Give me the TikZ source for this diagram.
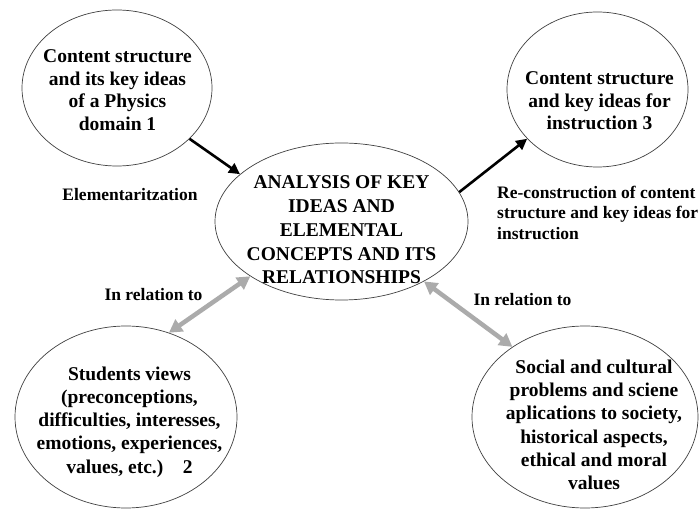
\documentclass[tikz,border=0pt]{standalone}
\usepackage{fontspec}
\setmainfont{Liberation Serif}[BoldFont={Liberation Serif Bold}]
\usetikzlibrary{shapes.geometric,arrows.meta}
\definecolor{arrgray}{RGB}{171,171,171}
\begin{document}
\begin{tikzpicture}[x=1pt,y=-1pt,
  ell/.style={ellipse, draw=black!75, line width=0.7pt, inner sep=0pt},
  etxt/.style={align=center, inner sep=0pt, font=\rmfamily\bfseries\fontsize{19.5}{22.5}\selectfont},
  ctxt/.style={align=center, inner sep=0pt, font=\rmfamily\bfseries\fontsize{19.5}{23.8}\selectfont},
  btxt/.style={align=center, inner sep=0pt, font=\rmfamily\bfseries\fontsize{19.5}{23.3}\selectfont},
  lbl/.style={inner sep=0pt, font=\rmfamily\bfseries\fontsize{17.5}{20.5}\selectfont},
  blackarr/.style={line width=2.6pt, -{Triangle[length=11pt,width=11pt]}},
  grayarr/.style={draw=arrgray, line width=4.5pt, {Triangle[length=13pt,width=14pt]}-{Triangle[length=13pt,width=14pt]}}
]
\fill[white] (0,0) rectangle (699,510);
\useasboundingbox (0,0) rectangle (699,510);

% ellipses
\node[ell, minimum width=190pt, minimum height=156pt] (e1) at (117,88) {};
\node[ell, minimum width=181pt, minimum height=155pt] (e3) at (597.5,89.5) {};
\node[ell, minimum width=253pt, minimum height=157pt] (c) at (341.5,221.5) {};
\node[ell, minimum width=222pt, minimum height=182pt] (e2) at (126,417) {};
\node[ell, minimum width=226pt, minimum height=182pt] (e4) at (585,417) {};

% texts
\node[etxt] (t1) at (117.5,90) {Content structure\\and its key ideas\\of a Physics\\domain 1};
\node[etxt] (t3) at (599.5,101) {Content structure\\and key ideas for\\instruction 3};
\node[ctxt] (tc) at (341.5,230) {ANALYSIS OF KEY\\IDEAS AND\\ELEMENTAL\\CONCEPTS AND ITS\\RELATIONSHIPS};
\node[btxt] (t2) at (129.5,422) {Students views\\(preconceptions,\\difficulties, interesses,\\emotions, experiences,\\values, etc.)\quad 2};
\node[btxt] (t4) at (594,425) {Social and cultural\\problems and sciene\\aplications to society,\\historical aspects,\\ethical and moral\\values};

% labels
\node[lbl] (l1) at (130,195) {Elementaritzation};
\node[lbl, align=left, anchor=north west] (l2) at (497,185.5) {Re-construction of content\\structure and key ideas for\\instruction};
\node[lbl] (l3) at (153.5,295) {In relation to};
\node[lbl] (l4) at (522.5,300) {In relation to};

% connectors
\draw[blackarr] (e1.-35.2) -- (c.155.7);
\draw[blackarr] (c.14.8) -- (e3.215.1);
\draw[grayarr] (e2.63.7) -- (c.211.7);
\draw[grayarr] (c.-36.6) -- (e4.136.3);
\end{tikzpicture}
\end{document}
